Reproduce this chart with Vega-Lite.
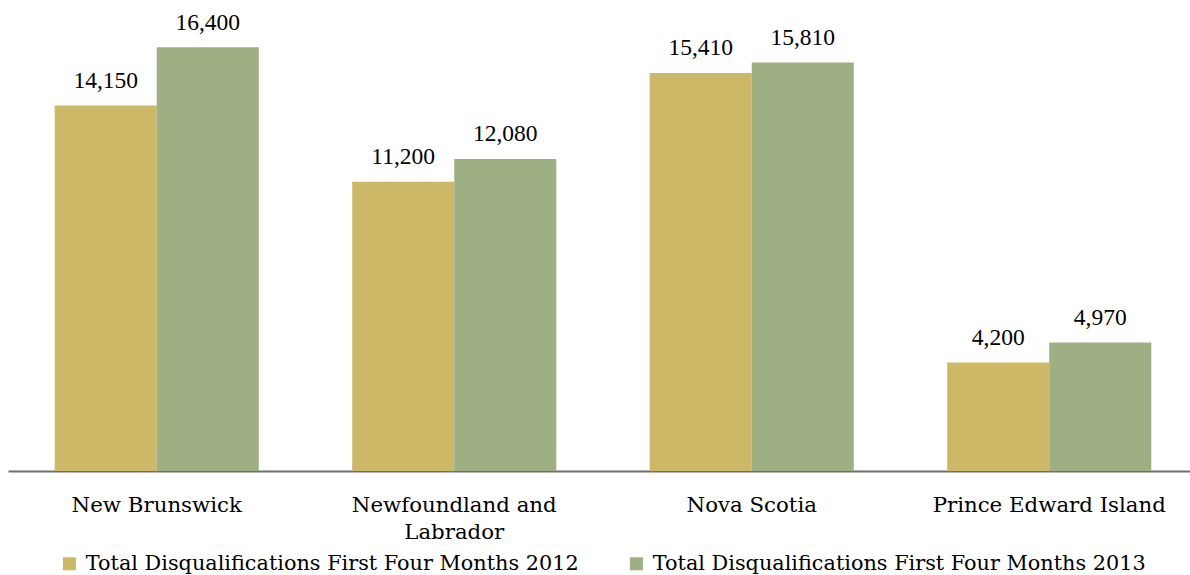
{
  "$schema": "https://vega.github.io/schema/vega-lite/v6.json",
  "autosize": {"type": "none"},
  "width": 1190,
  "height": 465,
  "padding": {"left": 8, "top": 6, "right": 0, "bottom": 104},
  "background": "white",
  "config": {
    "view": {"stroke": null},
    "font": "DejaVu Serif"
  },
  "data": {
    "values": [
      {"province": "New Brunswick", "series": "Total Disqualifications First Four Months 2012", "value": 14150},
      {"province": "New Brunswick", "series": "Total Disqualifications First Four Months 2013", "value": 16400},
      {"province": "Newfoundland and Labrador", "series": "Total Disqualifications First Four Months 2012", "value": 11200},
      {"province": "Newfoundland and Labrador", "series": "Total Disqualifications First Four Months 2013", "value": 12080},
      {"province": "Nova Scotia", "series": "Total Disqualifications First Four Months 2012", "value": 15410},
      {"province": "Nova Scotia", "series": "Total Disqualifications First Four Months 2013", "value": 15810},
      {"province": "Prince Edward Island", "series": "Total Disqualifications First Four Months 2012", "value": 4200},
      {"province": "Prince Edward Island", "series": "Total Disqualifications First Four Months 2013", "value": 4970}
    ]
  },
  "encoding": {
    "x": {
      "field": "province",
      "type": "nominal",
      "sort": null,
      "scale": {"paddingInner": 0.314, "paddingOuter": 0.157},
      "axis": {
        "title": null,
        "labelAngle": 0,
        "ticks": false,
        "domainColor": "#6f6f6f",
        "domainWidth": 2,
        "labelFont": "DejaVu Serif",
        "labelFontSize": 21.3,
        "labelColor": "#000000",
        "labelBaseline": "alphabetic",
        "labelPadding": 40,
        "labelLineHeight": 27.5,
        "labelLimit": 0,
        "labelExpr": "datum.label == 'Newfoundland and Labrador' ? ['Newfoundland and', 'Labrador'] : datum.label"
      }
    },
    "xOffset": {"field": "series", "type": "nominal", "scale": {"paddingInner": 0, "paddingOuter": 0}},
    "y": {
      "field": "value",
      "type": "quantitative",
      "scale": {"domain": [0, 18000], "nice": false},
      "axis": null
    }
  },
  "layer": [
    {
      "mark": {"type": "bar"},
      "encoding": {
        "color": {
          "field": "series",
          "type": "nominal",
          "scale": {
            "domain": ["Total Disqualifications First Four Months 2012", "Total Disqualifications First Four Months 2013"],
            "range": ["#CDB868", "#9DAF83"]
          },
          "legend": {
            "title": null,
            "orient": "none",
            "direction": "horizontal",
            "legendX": 51,
            "legendY": 547,
            "symbolType": "square",
            "symbolSize": 169,
            "symbolStrokeWidth": 0,
            "labelFont": "DejaVu Serif",
            "labelFontSize": 20.8,
            "labelColor": "#000000",
            "labelOffset": 6,
            "labelLimit": 0,
            "columnPadding": 47
          }
        }
      }
    },
    {
      "mark": {"type": "text", "baseline": "alphabetic", "dy": -17.5, "fontSize": 23.5, "font": "Liberation Serif", "color": "#000000"},
      "encoding": {
        "text": {"field": "value", "type": "quantitative", "format": ","}
      }
    }
  ]
}
